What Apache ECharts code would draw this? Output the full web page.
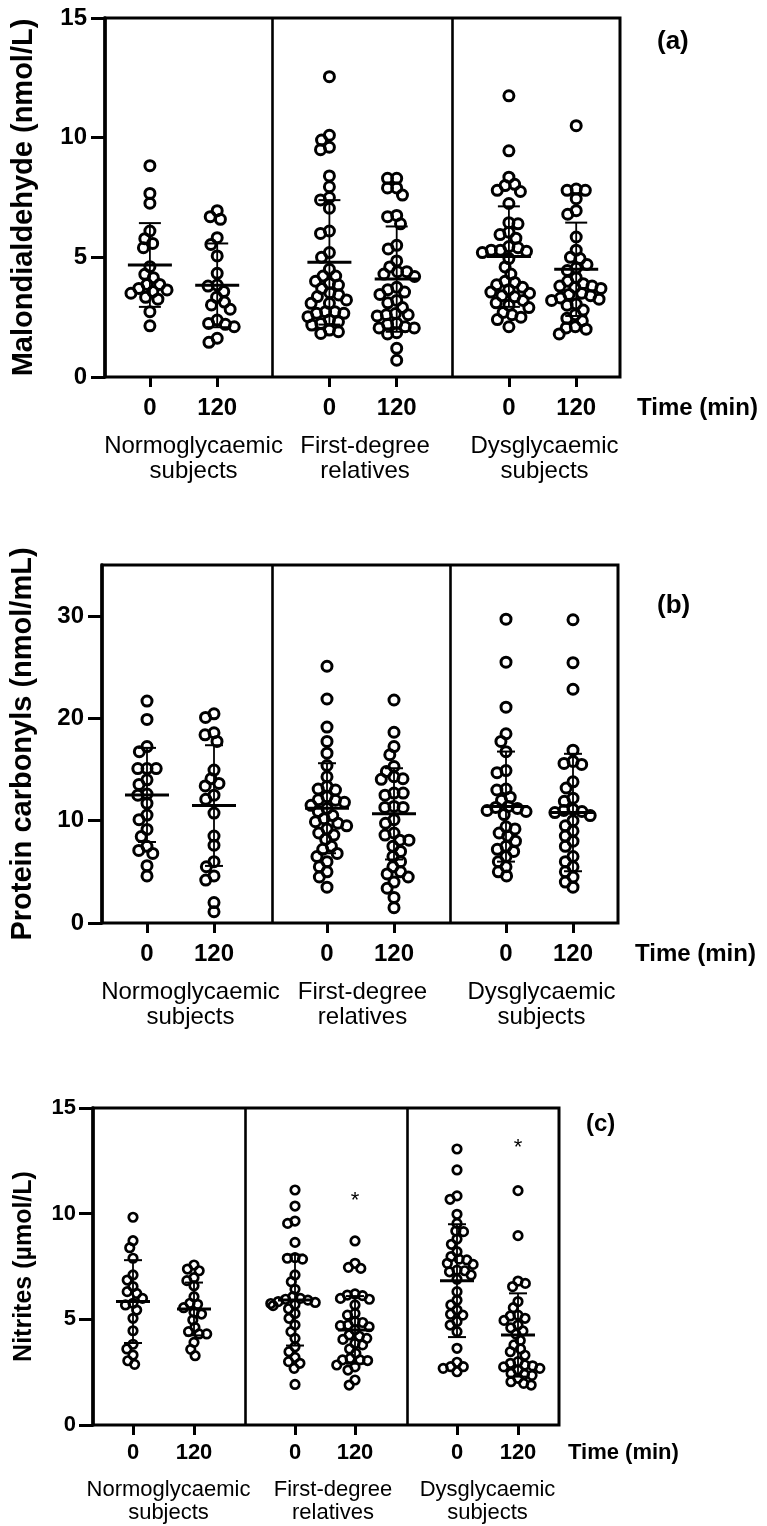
<!DOCTYPE html>
<html><head><meta charset="utf-8">
<script src="https://cdn.jsdelivr.net/npm/echarts@6/dist/echarts.min.js"></script>
<style>html,body{margin:0;padding:0;background:#fff}#c{width:767px;height:1526px}</style>
</head><body><div id="c"></div>
<script>
// ---------- labels ----------
const groupNames = ['Normoglycaemic\nsubjects', 'First-degree\nrelatives', 'Dysglycaemic\nsubjects'];
const timeCats = ['0', '120'];
const timeTitle = 'Time (min)';
const panelLetters = ['(a)', '(b)', '(c)'];
const yTitles = ['Malondialdehyde (nmol/L)', 'Protein carbonyls (nmol/mL)', 'Nitrites (µmol/L)'];
const yMax = [15, 35, 15];
const yTicksA = [0, 5, 10, 15];
const yTicksB = [0, 10, 20, 30];
const yTicksC = [0, 5, 10, 15];

// ---------- (a) Malondialdehyde ----------
const mdaN0 = [8.83, 7.67, 7.26, 6.10, 5.78, 5.58, 5.40, 4.61, 4.29, 4.15, 3.87, 3.87, 3.70, 3.64, 3.57, 3.50, 3.33, 3.25, 2.73, 2.14];
const mdaN120 = [6.95, 6.70, 6.59, 5.82, 5.54, 5.06, 4.33, 3.84, 3.80, 3.57, 3.33, 3.13, 3.01, 2.83, 2.38, 2.24, 2.20, 2.10, 1.62, 1.45];
const mdaF0 = [12.55, 10.1, 9.9, 9.6, 9.5, 8.4, 7.95, 7.5, 7.4, 7.05, 6.1, 6.0, 5.2, 5.0, 4.5, 4.22, 4.22, 4.0, 3.91, 3.84, 3.7, 3.52, 3.43, 3.36, 3.22, 3.08, 3.08, 2.73, 2.73, 2.66, 2.66, 2.52, 2.38, 2.31, 2.24, 2.17, 1.96, 1.89, 1.82];
const mdaF120 = [8.3, 8.3, 7.9, 7.9, 7.6, 6.75, 6.7, 6.4, 5.5, 5.35, 4.85, 4.6, 4.4, 4.4, 4.3, 4.2, 3.75, 3.65, 3.55, 3.45, 3.2, 3.1, 2.9, 2.65, 2.6, 2.6, 2.55, 2.25, 2.2, 2.1, 2.05, 2.05, 1.85, 1.8, 1.2, 0.7];
const mdaD0 = [11.75, 9.45, 8.35, 8.05, 8.0, 7.8, 7.75, 7.25, 6.45, 6.4, 6.05, 5.95, 5.8, 5.45, 5.4, 5.3, 5.3, 5.25, 5.2, 4.95, 4.6, 4.3, 4.0, 3.95, 3.85, 3.75, 3.65, 3.55, 3.5, 3.4, 3.35, 3.2, 3.1, 3.0, 2.9, 2.7, 2.6, 2.5, 2.4, 2.1];
const mdaD120 = [10.5, 7.85, 7.8, 7.8, 7.45, 6.95, 6.8, 5.85, 5.3, 5.0, 4.95, 4.7, 4.55, 4.45, 4.15, 4.0, 3.9, 3.8, 3.8, 3.75, 3.7, 3.5, 3.45, 3.4, 3.3, 3.25, 3.2, 3.05, 3.0, 2.8, 2.6, 2.45, 2.35, 2.1, 2.05, 2.0, 1.8];
const mdaMean = [4.68, 3.83, 4.79, 4.09, 5.03, 4.50];
const mdaSD = [1.75, 1.75, 2.6, 2.2, 2.1, 1.95];

// ---------- (b) Protein carbonyls ----------
const pcN0 = [21.7, 19.9, 17.25, 16.75, 15.1, 15.1, 15.1, 14.0, 13.55, 12.6, 12.5, 11.7, 10.55, 10.1, 9.15, 8.45, 7.5, 7.1, 6.8, 5.6, 4.6];
const pcN120 = [20.45, 20.1, 18.6, 18.4, 17.75, 14.95, 14.1, 13.65, 13.4, 12.5, 12.1, 10.75, 8.5, 7.6, 6.0, 5.5, 4.6, 4.2, 2.0, 1.1];
const pcF0 = [25.1, 21.9, 19.15, 17.75, 16.6, 15.4, 14.3, 13.35, 13.1, 13.0, 12.35, 12.05, 12.0, 11.8, 11.5, 11.2, 10.9, 10.5, 10.2, 9.9, 9.75, 9.5, 9.2, 8.8, 8.6, 8.2, 7.5, 7.2, 6.8, 6.5, 6.0, 5.5, 5.0, 4.5, 3.5];
const pcF120 = [21.8, 18.65, 17.25, 16.45, 15.3, 14.8, 14.3, 14.1, 14.05, 12.7, 12.5, 12.7, 11.4, 11.3, 11.3, 10.1, 9.75, 8.8, 8.6, 8.1, 8.1, 7.5, 7.0, 6.5, 6.0, 5.5, 5.0, 4.8, 4.5, 4.0, 3.4, 2.5, 1.5];
const pcD0 = [29.7, 25.5, 21.1, 18.5, 17.75, 16.75, 14.9, 14.7, 13.1, 13.0, 12.3, 12.0, 11.4, 11.3, 11.2, 11.0, 10.9, 10.6, 9.4, 9.2, 8.8, 8.5, 8.0, 7.5, 7.2, 7.0, 6.5, 6.0, 5.5, 5.0, 4.6];
const pcD120 = [29.65, 25.45, 22.85, 16.9, 15.8, 15.6, 15.5, 13.8, 13.2, 12.2, 11.9, 11.1, 11.0, 10.9, 10.8, 10.5, 10.0, 9.5, 9.0, 8.5, 8.0, 7.5, 6.5, 6.0, 5.5, 5.0, 4.5, 4.0, 3.5];
const pcMean = [12.52, 11.48, 11.22, 10.67, 11.38, 10.8];
const pcSD = [4.6, 5.9, 4.4, 4.46, 5.38, 5.74];

// ---------- (c) Nitrites ----------
const noN0 = [9.83, 8.72, 8.39, 7.89, 7.10, 6.86, 6.55, 6.31, 6.23, 5.99, 5.76, 5.68, 5.44, 5.05, 4.46, 3.82, 3.60, 3.31, 3.04, 2.87];
const noN120 = [7.57, 7.38, 7.30, 6.97, 6.83, 6.59, 6.07, 5.76, 5.71, 5.55, 5.33, 5.25, 4.97, 4.62, 4.42, 4.31, 4.31, 3.91, 3.58, 3.28];
const noF0 = [11.12, 10.36, 9.65, 9.54, 8.64, 7.92, 7.89, 7.85, 7.10, 6.78, 6.42, 6.07, 5.99, 5.95, 5.91, 5.84, 5.80, 5.75, 5.70, 5.65, 5.5, 5.28, 5.05, 4.73, 4.42, 4.10, 3.7, 3.47, 3.2, 3.0, 2.92, 2.68, 1.92];
const noF120 = [8.71, 7.65, 7.46, 7.41, 6.2, 6.15, 6.12, 5.99, 5.95, 5.68, 5.28, 5.2, 4.89, 4.85, 4.73, 4.7, 4.65, 4.5, 4.26, 4.2, 4.10, 4.05, 3.86, 3.79, 3.6, 3.39, 3.15, 3.08, 3.08, 3.05, 2.84, 2.75, 2.60, 2.13, 1.89];
const noD0 = [13.06, 12.07, 10.84, 10.68, 9.97, 9.54, 9.18, 9.15, 8.80, 8.55, 8.20, 7.97, 7.85, 7.81, 7.65, 7.6, 7.33, 7.3, 7.25, 7.10, 6.9, 6.31, 5.9, 5.68, 5.44, 5.24, 5.2, 4.9, 4.73, 4.42, 3.63, 2.97, 2.76, 2.76, 2.68, 2.52];
const noD120 = [11.09, 8.96, 6.81, 6.7, 6.55, 5.84, 5.55, 5.2, 5.16, 5.05, 4.95, 4.73, 4.6, 4.45, 4.3, 4.0, 3.79, 3.6, 3.47, 3.3, 3.0, 2.92, 2.84, 2.8, 2.75, 2.68, 2.6, 2.44, 2.4, 2.35, 2.21, 2.05, 1.97, 1.89];
const noMean = [5.84, 5.49, 5.91, 4.5, 6.83, 4.26];
const noSD = [1.96, 1.25, 2.15, 1.6, 2.67, 1.97];
const noStars = [null, 10.6, 13.1];   // "*" above the 120-min column of each group

// ---------- layout (pixels / styles only) ----------
const L = [
  { left: 105, sep: [272.5, 452], right: 620, top: 18, bottom: 377,
    cats: [[149.9, 217.2], [329.4, 396.7], [508.9, 576.2]],
    tickFs: 24, catFs: 24, nameFs: 24, nameLH: 25, yTitleFs: 29, letterFs: 26,
    yNameGap: 67, yLabMargin: 18, catMargin: 19, grpGap: 57, grpShift: [20, 4, 4],
    letter: [652, 24], timeGap: 17, timeOff: 31, sym: 10, bw: 3, meanHalf: 22, capHalf: 11 },
  { left: 102, sep: [272, 450], right: 618, top: 565, bottom: 923,
    cats: [[147, 214], [327, 394], [506, 573]],
    tickFs: 24, catFs: 24, nameFs: 24, nameLH: 25, yTitleFs: 29, letterFs: 26,
    yNameGap: 65, yLabMargin: 18, catMargin: 19, grpGap: 57, grpShift: [20, 4, 4],
    letter: [652, 588], timeGap: 17, timeOff: 31, sym: 10, bw: 3, meanHalf: 22, capHalf: 9 },
  { left: 93, sep: [245, 407], right: 559, top: 1108, bottom: 1425,
    cats: [[133, 194], [295, 355], [457, 518]],
    tickFs: 22, catFs: 22, nameFs: 22, nameLH: 23, yTitleFs: 25, letterFs: 24,
    yNameGap: 56, yLabMargin: 17, catMargin: 17, grpGap: 53, grpShift: [10, 16, 0],
    letter: [581, 1107], timeGap: 9, timeOff: 28, sym: 8.5, bw: 2.7, meanHalf: 17, capHalf: 9 }
];

const panelData = [
  { groups: [[mdaN0, mdaN120], [mdaF0, mdaF120], [mdaD0, mdaD120]], mean: mdaMean, sd: mdaSD, ticks: yTicksA, stars: [null, null, null] },
  { groups: [[pcN0, pcN120], [pcF0, pcF120], [pcD0, pcD120]], mean: pcMean, sd: pcSD, ticks: yTicksB, stars: [null, null, null] },
  { groups: [[noN0, noN120], [noF0, noF120], [noD0, noD120]], mean: noMean, sd: noSD, ticks: yTicksC, stars: noStars }
];

const FONT = '"Liberation Sans", Arial, sans-serif';
const grids = [], xAxes = [], yAxes = [], series = [], titles = [];

panelData.forEach((P, p) => {
  const lay = L[p];
  const unit = lay.sep[1] - lay.sep[0];
  const xMin = 1 - (lay.sep[0] - lay.left) / unit;
  const xMax = 2 + (lay.right - lay.sep[1]) / unit;
  const h = lay.bottom - lay.top;
  // main frame grid
  const gi = grids.length;
  grids.push({ left: lay.left, top: lay.top, width: lay.right - lay.left, height: h,
    show: true, borderColor: '#000', borderWidth: 3, backgroundColor: 'transparent', outerBoundsMode: 'none' });
  xAxes.push({ gridIndex: gi, type: 'value', min: xMin, max: xMax,
    axisLine: { show: false }, axisTick: { show: false }, axisLabel: { show: false }, splitLine: { show: false },
    name: '\n' + timeTitle, nameLocation: 'end', nameGap: lay.timeGap,
    nameTextStyle: { color: '#000', fontSize: lay.nameFs, fontWeight: 'bold', fontFamily: FONT,
      verticalAlign: 'middle', lineHeight: 2 * lay.timeOff } });
  yAxes.push({ gridIndex: gi, type: 'value', min: 0, max: yMax[p],
    axisLine: { show: true, lineStyle: { color: '#000', width: 3.5 } },
    axisTick: { show: true, length: 14, lineStyle: { color: '#000', width: 3 }, customValues: P.ticks },
    axisLabel: { color: '#000', fontSize: lay.tickFs, fontWeight: 'bold', fontFamily: FONT, margin: lay.yLabMargin, customValues: P.ticks },
    splitLine: { show: false },
    name: yTitles[p], nameLocation: 'middle', nameGap: lay.yNameGap,
    nameTextStyle: { color: '#000', fontSize: lay.yTitleFs, fontWeight: 'bold', fontFamily: FONT } });
  series.push({ type: 'line', xAxisIndex: xAxes.length - 1, yAxisIndex: yAxes.length - 1, data: [], silent: true,
    markLine: { symbol: 'none', silent: true, label: { show: false },
      lineStyle: { color: '#000', width: 2.6, type: 'solid' },
      data: [{ xAxis: 1 }, { xAxis: 2 }] } });
  titles.push({ text: panelLetters[p], left: lay.letter[0], top: lay.letter[1],
    textStyle: { color: '#000', fontSize: lay.letterFs, fontWeight: 'bold', fontFamily: FONT } });

  // one sub-grid per subject group
  P.groups.forEach((pair, g) => {
    const c0 = lay.cats[g][0], c1 = lay.cats[g][1], d = c1 - c0;
    const sg = grids.length;
    grids.push({ left: c0 - d / 2, top: lay.top, width: 2 * d, height: h, outerBoundsMode: 'none' });
    xAxes.push({ gridIndex: sg, type: 'category', data: timeCats, boundaryGap: true,
      jitter: 2 * d - 16, jitterOverlap: false, jitterMargin: -0.8,
      axisLine: { show: false },
      axisTick: { show: true, alignWithLabel: true, length: 10, lineStyle: { color: '#000', width: 3 } },
      axisLabel: { color: '#000', fontSize: lay.catFs, fontWeight: 'bold', fontFamily: FONT, margin: lay.catMargin },
      name: groupNames[g], nameLocation: 'middle', nameGap: lay.grpGap,
      nameTextStyle: { color: '#000', fontSize: lay.nameFs, lineHeight: lay.nameLH, fontFamily: FONT,
        padding: [0, 0, 0, lay.grpShift[g]] } });
    yAxes.push({ gridIndex: sg, type: 'value', min: 0, max: yMax[p], show: false });
    const xi = xAxes.length - 1, yi = yAxes.length - 1;
    const pts = [];
    pair.forEach((vals, t) => vals.forEach(v => pts.push([t, v])));
    series.push({ type: 'scatter', xAxisIndex: xi, yAxisIndex: yi, data: pts, symbol: 'circle',
      symbolSize: lay.sym, silent: true,
      itemStyle: { color: 'rgba(255,255,255,0)', borderColor: '#000', borderWidth: lay.bw, opacity: 1 } });
    const bars = [0, 1].map(t => [t, P.mean[g * 2 + t], P.sd[g * 2 + t]]);
    series.push({ type: 'custom', xAxisIndex: xi, yAxisIndex: yi, data: bars, silent: true, z: 5,
      renderItem: (params, api) => {
        const x = api.value(0), m = api.value(1), s = api.value(2);
        const c = api.coord([x, m]), hi = api.coord([x, m + s]), lo = api.coord([x, m - s]);
        const st = { stroke: '#000', lineWidth: 2 };
        return { type: 'group', children: [
          { type: 'line', shape: { x1: c[0], y1: hi[1], x2: c[0], y2: lo[1] }, style: { stroke: '#000', lineWidth: 1.8 } },
          { type: 'line', shape: { x1: c[0] - lay.capHalf, y1: hi[1], x2: c[0] + lay.capHalf, y2: hi[1] }, style: st },
          { type: 'line', shape: { x1: c[0] - lay.capHalf, y1: lo[1], x2: c[0] + lay.capHalf, y2: lo[1] }, style: st },
          { type: 'line', shape: { x1: c[0] - lay.meanHalf, y1: c[1], x2: c[0] + lay.meanHalf, y2: c[1] }, style: { stroke: '#000', lineWidth: 3 } }
        ] };
      } });
    if (P.stars[g] != null) {
      series.push({ type: 'custom', xAxisIndex: xi, yAxisIndex: yi, data: [[1, P.stars[g]]], silent: true,
        renderItem: (params, api) => {
          const c = api.coord([api.value(0), api.value(1)]);
          return { type: 'text', x: c[0], y: c[1],
            style: { text: '*', fill: '#000', fontSize: 22, fontFamily: FONT, align: 'center', verticalAlign: 'middle' } };
        } });
    }
  });
});

const chart = echarts.init(document.getElementById('c'), null, { renderer: 'canvas' });
chart.setOption({
  backgroundColor: '#fff',
  animation: false,
  textStyle: { fontFamily: FONT, color: '#000' },
  title: titles,
  grid: grids,
  xAxis: xAxes,
  yAxis: yAxes,
  series: series
});
</script></body></html>
